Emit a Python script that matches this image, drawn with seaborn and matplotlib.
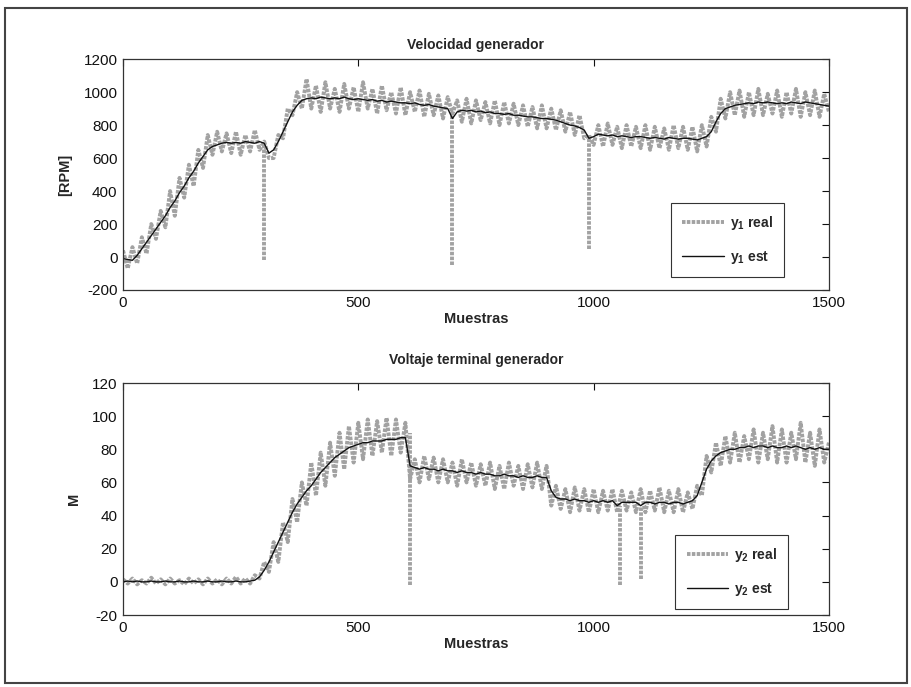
import matplotlib
matplotlib.use("Agg")
import matplotlib.pyplot as plt
import seaborn as sns
from matplotlib.patches import Rectangle

# muestras (cada 10)
muestras = list(range(0, 1501, 10))

# Velocidad generador [RPM]
y1_est = [
    -10, -15, -20, 10, 50, 90, 130, 170, 210, 250,
    300, 340, 390, 430, 480, 520, 570, 610, 650, 670,
    680, 690, 695, 690, 695, 690, 700, 695, 690, 700,
    690, 630, 650, 700, 760, 820, 880, 920, 950, 960,
    965, 960, 970, 965, 960, 965, 960, 970, 960, 955,
    960, 955, 950, 955, 945, 950, 940, 945, 940, 935,
    935, 930, 935, 925, 920, 925, 915, 910, 905, 900,
    840, 880, 890, 885, 890, 880, 885, 875, 880, 870,
    870, 865, 870, 860, 860, 855, 850, 850, 845, 840,
    840, 835, 830, 820, 810, 800, 795, 785, 770, 720,
    730, 745, 740, 735, 740, 730, 735, 730, 725, 730,
    730, 725, 720, 725, 720, 715, 725, 720, 715, 720,
    720, 715, 710, 720, 730, 760, 820, 870, 900, 910,
    920, 925, 930, 935, 930, 940, 935, 940, 935, 930,
    935, 930, 940, 935, 930, 940, 935, 930, 925, 920,
    915,
]
y1_real = [
    40, -70, 60, -40, 120, 20, 200, 110, 280, 180,
    400, 250, 480, 360, 560, 430, 650, 540, 740, 620,
    760, 640, 750, 630, 760, 620, 740, 640, 770, 650,
    700, 600, 600, 740, 720, 900, 860, 1000, 900, 1080,
    900, 1040, 880, 1060, 900, 1020, 880, 1050, 900, 1030,
    880, 1060, 900, 1020, 870, 1040, 890, 1000, 870, 1030,
    860, 1000, 880, 1010, 850, 990, 860, 980, 840, 970,
    870, 950, 820, 960, 810, 950, 830, 940, 810, 950,
    800, 940, 810, 930, 800, 920, 790, 910, 780, 920,
    780, 900, 770, 890, 760, 880, 740, 860, 720, 740,
    680, 800, 670, 810, 680, 790, 660, 800, 670, 790,
    660, 800, 650, 790, 660, 780, 650, 800, 660, 790,
    650, 790, 640, 800, 670, 850, 760, 960, 840, 1000,
    860, 1010, 850, 1000, 860, 1020, 860, 990, 870, 1010,
    850, 1000, 870, 1020, 850, 1000, 860, 1010, 850, 990,
    880,
]
pico1_x = [300, 700, 990]
pico1_min = [-20, -50, 50]
pico1_max = [680, 880, 740]

# Voltaje terminal generador
y2_est = [
    0, 0.5, 0, 0.5, 0, 0, 0.5, 0, 0, 0.5,
    0, 0, 0.5, 0, 0, 0.5, 0, 0, 0.5, 0,
    0, 0.5, 0, 0, 0.5, 0, 0, 0.5, 1, 3,
    7, 12, 18, 24, 30, 36, 42, 47, 51, 55,
    58, 62, 66, 69, 72, 75, 77, 79, 81, 82,
    83, 84, 84, 85, 85, 85, 86, 86, 86, 87,
    87, 70, 69, 68, 69, 68, 68, 67, 68, 67,
    67, 66, 67, 66, 66, 65, 66, 65, 65, 64,
    64, 65, 64, 64, 63, 64, 63, 63, 64, 63,
    63, 55, 51, 50, 50, 49, 50, 49, 49, 48,
    49, 48, 49, 48, 49, 46, 48, 48, 48, 48,
    46, 48, 48, 47, 48, 48, 47, 48, 48, 47,
    48, 49, 52, 60, 68, 73, 76, 78, 79, 80,
    80, 81, 81, 82, 81, 82, 82, 81, 82, 81,
    81, 82, 81, 82, 81, 80, 81, 80, 81, 80,
    80,
]
y2_real = [
    1.5, -1, 2, -1.5, 1, -1, 2.5, -1, 1.5, -1.5,
    2, -1, 1, -1.5, 2, -1, 1.5, -1.5, 2, -1,
    1.5, -1.5, 2, -1, 3, -1, 2, -1, 4, 2,
    12, 6, 24, 12, 36, 24, 50, 36, 60, 46,
    72, 52, 78, 58, 84, 64, 90, 68, 94, 72,
    96, 74, 98, 76, 97, 78, 99, 76, 98, 78,
    96, 62, 74, 60, 76, 62, 75, 60, 74, 60,
    72, 58, 74, 60, 72, 58, 71, 58, 72, 56,
    70, 56, 72, 58, 70, 56, 71, 57, 72, 56,
    70, 46, 58, 44, 56, 42, 57, 43, 56, 42,
    56, 42, 55, 43, 56, 42, 55, 43, 54, 42,
    56, 42, 55, 43, 57, 42, 55, 42, 56, 42,
    54, 44, 58, 52, 76, 66, 84, 70, 88, 72,
    90, 72, 88, 74, 92, 72, 90, 74, 94, 72,
    92, 72, 90, 74, 96, 72, 90, 70, 92, 72,
    84,
]
pico2_x = [610, 1055, 1100]
pico2_min = [-2, -2, 2]
pico2_max = [90, 46, 46]

sns.set_theme(style="white")
plt.rcParams["font.family"] = ["Liberation Sans", "DejaVu Sans"]
plt.rcParams["axes.unicode_minus"] = False
plt.rcParams["mathtext.fontset"] = "custom"
plt.rcParams["mathtext.rm"] = "Liberation Sans:bold"
plt.rcParams["mathtext.it"] = "Liberation Sans:bold"
plt.rcParams["mathtext.bf"] = "Liberation Sans:bold"
plt.rcParams["mathtext.default"] = "bf"

GRIS = "#a2a2a2"
ESP = "#333333"
PUNTEADO = (0, (0.9, 0.35))

fig = plt.figure(figsize=(9.12, 6.87), dpi=100)
ax1 = fig.add_axes([0.1349, 0.5779, 0.774, 0.336])
ax2 = fig.add_axes([0.1349, 0.1048, 0.774, 0.3377])


def panel(ax, real, est, px, pmin, pmax, n, titulo, ylab, yticks, ylim, pad, leg_anchor):
    sns.lineplot(x=muestras, y=real, ax=ax, color=GRIS, lw=2.8, linestyle=PUNTEADO,
                 label=f"y$_{n}$ real")
    ax.vlines(px, pmin, pmax, color=GRIS, lw=2.8, linestyle=PUNTEADO)
    sns.lineplot(x=muestras, y=est, ax=ax, color="#111111", lw=1.0,
                 label=f"y$_{n}$ est")
    ax.set_xlim(0, 1500)
    ax.set_ylim(*ylim)
    ax.set_xticks([0, 500, 1000, 1500])
    ax.set_yticks(yticks)
    ax.tick_params(direction="in", top=True, right=True, length=5, width=0.8,
                   labelsize=11, colors="#111111", pad=4)
    for s in ax.spines.values():
        s.set_visible(True)
        s.set_color(ESP)
        s.set_linewidth(0.9)
    ax.set_title(titulo, fontsize=10, fontweight="bold", pad=pad)
    ax.set_xlabel("Muestras", fontsize=10.5, fontweight="bold", labelpad=2)
    ax.set_ylabel(ylab, fontsize=10.5, fontweight="bold", labelpad=8)
    ax.legend(loc="upper right", bbox_to_anchor=leg_anchor, fancybox=False,
              edgecolor=ESP, framealpha=1, handlelength=3.0,
              handletextpad=0.4, labelspacing=1.2, borderpad=0.8,
              prop={"weight": "bold", "size": 10})
    ax.get_legend().get_frame().set_linewidth(0.8)


panel(ax1, y1_real, y1_est, pico1_x, pico1_min, pico1_max, 1,
      "Velocidad generador", "[RPM]", list(range(-200, 1201, 200)), (-200, 1200),
      7, (0.946, 0.407))
panel(ax2, y2_real, y2_est, pico2_x, pico2_min, pico2_max, 2,
      "Voltaje terminal generador", "M", list(range(-20, 121, 20)), (-20, 120),
      14, (0.952, 0.375))

fig.patches.append(Rectangle((0.005, 0.006), 0.99, 0.982, transform=fig.transFigure,
                             fill=False, edgecolor="#444444", lw=1.5))

fig.savefig("out.png", dpi=100, facecolor="white")
